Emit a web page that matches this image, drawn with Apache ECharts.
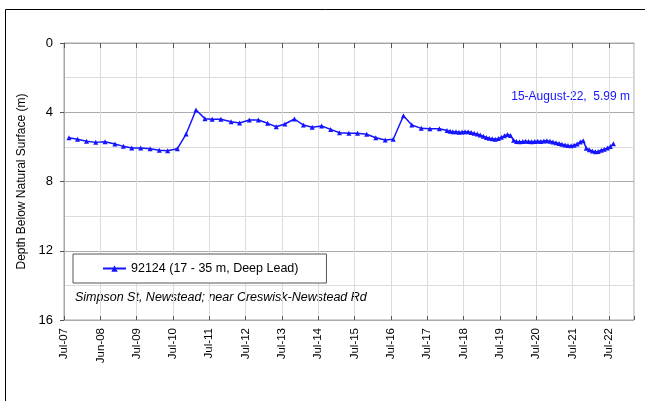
<!DOCTYPE html>
<html>
<head>
<meta charset="utf-8">
<script src="https://cdn.jsdelivr.net/npm/echarts@6/dist/echarts.min.js"></script>
<style>
html,body{margin:0;padding:0;background:#fff;}
#chart{width:645px;height:401px;}
</style>
</head>
<body>
<div id="chart"></div>
<script>
// ---- data ----
var tickLabels = ['Jul-07','Jun-08','Jul-09','Jul-10','Jul-11','Jul-12','Jul-13','Jul-14','Jul-15','Jul-16','Jul-17','Jul-18','Jul-19','Jul-20','Jul-21','Jul-22'];
var dates = [
'2007-08-20','2007-11-14','2008-02-13','2008-05-15','2008-08-17','2008-11-24','2009-02-17','2009-05-12',
'2009-08-10','2009-11-13','2010-02-13','2010-05-08','2010-08-13','2010-11-10','2011-02-17','2011-05-18',
'2011-07-30','2011-10-25','2012-02-05','2012-04-30','2012-08-06','2012-11-05','2013-02-06','2013-05-04',
'2013-07-30','2013-11-03','2014-02-01','2014-04-30','2014-08-03','2014-11-02','2015-01-30','2015-05-04',
'2015-07-30','2015-10-30','2016-01-30','2016-05-04','2016-07-23','2016-11-03','2017-01-26','2017-05-01',
'2017-07-27','2017-10-30',
'2018-01-15','2018-02-15','2018-03-15','2018-04-15','2018-05-15','2018-06-15','2018-07-15','2018-08-15',
'2018-09-15','2018-10-15','2018-11-15','2018-12-15','2019-01-15','2019-02-15','2019-03-15','2019-04-15',
'2019-05-15','2019-06-15','2019-07-15','2019-08-15','2019-09-15','2019-10-15','2019-11-15','2019-12-15',
'2020-01-15','2020-02-15','2020-03-15','2020-04-15','2020-05-15','2020-06-15','2020-07-15','2020-08-15',
'2020-09-15','2020-10-15','2020-11-15','2020-12-15','2021-01-15','2021-02-15','2021-03-15','2021-04-15',
'2021-05-15','2021-06-15','2021-07-15','2021-08-15','2021-09-15','2021-10-15','2021-11-15','2021-12-15',
'2022-01-15','2022-02-15','2022-03-15','2022-04-15','2022-05-15','2022-06-15','2022-07-15','2022-08-15'
];
var depths = [
5.47,5.56,5.68,5.74,5.70,5.83,5.97,6.07,
6.07,6.11,6.20,6.22,6.11,5.26,3.87,4.37,
4.41,4.41,4.55,4.62,4.45,4.45,4.64,4.84,
4.68,4.39,4.74,4.87,4.79,4.99,5.18,5.22,
5.22,5.27,5.47,5.60,5.56,4.20,4.74,4.93,
4.95,4.95,
5.06,5.10,5.12,5.13,5.16,5.14,5.12,5.12,
5.17,5.22,5.26,5.31,5.39,5.46,5.50,5.53,
5.56,5.51,5.45,5.36,5.28,5.34,5.62,5.69,
5.70,5.69,5.68,5.69,5.70,5.69,5.68,5.69,
5.66,5.64,5.68,5.72,5.76,5.80,5.85,5.89,
5.92,5.93,5.90,5.83,5.72,5.64,6.08,6.17,
6.24,6.28,6.26,6.19,6.13,6.07,5.98,5.82
];
var seriesName = '92124 (17 - 35 m, Deep Lead)';
var siteText = 'Simpson St, Newstead; near Creswisk-Newstead Rd';
var lastText = '15-August-22,  5.99 m';

// ---- build ----
var origin = Date.UTC(2007, 6, 1);
function toOffset(s){
  var p = s.split('-');
  return (Date.UTC(+p[0], +p[1]-1, +p[2]) - origin) / (365.25*86400000);
}
var seriesData = dates.map(function(d, i){ return [toOffset(d), depths[i]]; });

var FONT = 'Liberation Sans, Arial, sans-serif';
var BLUE = '#1414ff';
var chart = echarts.init(document.getElementById('chart'), null, {renderer:'canvas'});
var xMax = 15.69;
chart.setOption({
  animation: false,
  backgroundColor: '#fff',
  textStyle: {fontFamily: FONT},
  grid: {left: 64, right: 11, top: 43, bottom: 81, show: true, borderColor: '#a6a6a6', borderWidth: 1, backgroundColor: 'transparent'},
  legend: {
    show: true,
    left: 73, top: 254,
    orient: 'horizontal',
    backgroundColor: '#fff',
    borderColor: '#555',
    borderWidth: 1,
    borderRadius: 0,
    padding: [8, 28, 8, 29],
    itemWidth: 23, itemHeight: 8, itemGap: 2,
    textStyle: {fontFamily: FONT, fontSize: 12.5, color: '#000'},
    data: [seriesName]
  },
  xAxis: [{
    type: 'value', min: 0, max: xMax, interval: 1,
    axisLine: {show: true, lineStyle: {color: '#a6a6a6'}},
    axisTick: {show: true, inside: false, length: 5, lineStyle: {color: '#555'}},
    axisLabel: {rotate: 90, margin: 8, fontSize: 11.5, color: '#000', fontFamily: FONT, showMaxLabel: false,
      formatter: function(v){ var i = Math.round(v); return Math.abs(v - i) < 1e-6 && tickLabels[i] ? tickLabels[i] : ''; }},
    splitLine: {show: true, lineStyle: {color: '#dcdcdc', width: 1}}
  },{
    type: 'value', min: 0, max: xMax, interval: 1, position: 'bottom',
    axisLine: {show: false},
    axisTick: {show: true, inside: true, length: 4, lineStyle: {color: '#555'}},
    axisLabel: {show: false},
    splitLine: {show: false}
  }],
  yAxis: {
    type: 'value', inverse: true, min: 0, max: 16, interval: 4,
    name: 'Depth Below Natural Surface (m)',
    nameLocation: 'middle', nameGap: 33, nameRotate: 90,
    nameTextStyle: {fontFamily: FONT, fontSize: 12, color: '#000'},
    axisLine: {show: true, lineStyle: {color: '#a6a6a6'}},
    axisTick: {show: true, inside: false, length: 4, lineStyle: {color: '#555'}},
    axisLabel: {margin: 11, fontSize: 13, color: '#000', fontFamily: FONT},
    splitLine: {show: true, lineStyle: {color: '#ababab', width: 1}},
    minorTick: {show: false, splitNumber: 2},
    minorSplitLine: {show: true, lineStyle: {color: '#dcdcdc', width: 1}}
  },
  series: [{
    name: seriesName,
    type: 'line',
    xAxisIndex: 0,
    data: seriesData,
    symbol: 'triangle',
    symbolSize: 5,
    showSymbol: true,
    lineStyle: {color: BLUE, width: 1.5},
    itemStyle: {color: BLUE}
  }],
  graphic: [
    {type: 'rect', silent: true, z: -10, shape: {x: 5.5, y: 9.5, width: 700, height: 500}, style: {fill: 'none', stroke: '#000', lineWidth: 1}},
    {type: 'text', left: 75, top: 291, style: {text: siteText, fontFamily: FONT, fontSize: 12.5, fontStyle: 'italic', fill: '#000'}},
    {type: 'text', right: 15, top: 91, style: {text: lastText, fontFamily: FONT, fontSize: 12, fill: BLUE}}
  ]
});
</script>
</body>
</html>
